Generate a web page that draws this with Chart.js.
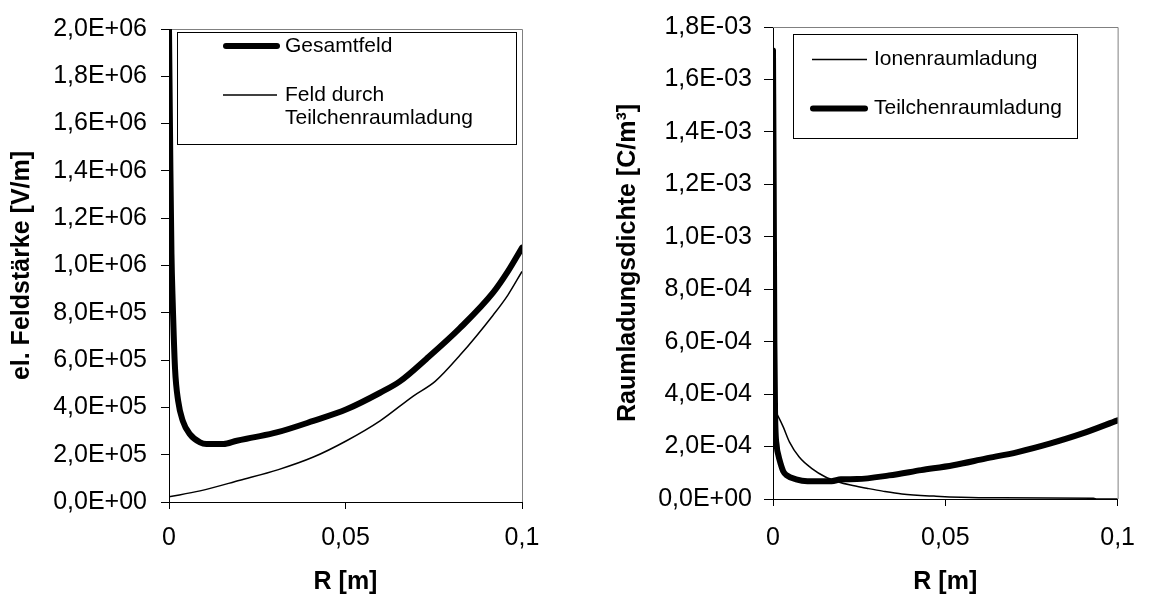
<!DOCTYPE html>
<html>
<head>
<meta charset="utf-8">
<script src="https://cdn.jsdelivr.net/npm/chart.js@4/dist/chart.umd.min.js"></script>
<style>
  body { margin: 0; background: #fff; }
  .wrap { position: absolute; top: 0; width: 576px; height: 600px; }
</style>
</head>
<body>
<div class="wrap" style="left:0"><canvas id="feld" width="576" height="600"></canvas></div>
<div class="wrap" style="left:576px"><canvas id="ladung" width="576" height="600"></canvas></div>
<script>
// linkes Diagramm: Feldstärke über Radius
const rGesamt = [0, 0.0004, 0.0007, 0.00105, 0.0017, 0.0026, 0.0039, 0.0059, 0.0088, 0.0106, 0.0154, 0.0192, 0.0239, 0.0305, 0.0409, 0.0503, 0.0598, 0.0654, 0.0729, 0.0824, 0.0918, 0.096, 0.1];
const eGesamt = [2.0e6, 1.4e6, 1.05e6, 8.45e5, 5.66e5, 4.27e5, 3.43e5, 2.87e5, 2.52e5, 2.45e5, 2.45e5, 2.59e5, 2.73e5, 2.94e5, 3.43e5, 3.92e5, 4.62e5, 5.1e5, 6.05e5, 7.35e5, 8.85e5, 9.75e5, 1.075e6];
const rTeilFeld = [0, 0.0088, 0.0201, 0.031, 0.0409, 0.0503, 0.0598, 0.0692, 0.0754, 0.0824, 0.0918, 0.096, 0.1];
const eTeilFeld = [2.2e4, 4.7e4, 9.2e4, 1.37e5, 1.9e5, 2.59e5, 3.43e5, 4.48e5, 5.1e5, 6.2e5, 7.9e5, 8.75e5, 9.75e5];

// rechtes Diagramm: Raumladungsdichte über Radius
const rIon = [0, 0.0015, 0.003, 0.0048, 0.0076, 0.0113, 0.0151, 0.0188, 0.0225, 0.0272, 0.0318, 0.0374, 0.0467, 0.0597, 0.093, 0.094, 0.1];
const qIon = [3.5e-4, 3.15e-4, 2.74e-4, 2.17e-4, 1.6e-4, 1.16e-4, 8.5e-5, 6.6e-5, 5.3e-5, 4.1e-5, 3.0e-5, 1.9e-5, 1.1e-5, 5e-6, 3e-6, 0, 0];
const rTeil = [0, 0.0002, 0.0004, 0.0006, 0.0011, 0.0015, 0.0022, 0.003, 0.0039, 0.0067, 0.01, 0.017, 0.0197, 0.0244, 0.0337, 0.043, 0.0523, 0.0616, 0.071, 0.0803, 0.0896, 0.1];
const qTeil = [1.71e-3, 1.2e-3, 6.0e-4, 3.3e-4, 2.0e-4, 1.7e-4, 1.35e-4, 1.05e-4, 9.1e-5, 7.5e-5, 6.8e-5, 6.8e-5, 7.5e-5, 7.6e-5, 9.0e-5, 1.1e-4, 1.29e-4, 1.54e-4, 1.79e-4, 2.11e-4, 2.49e-4, 3.0e-4];

const xTicks = [0, 0.05, 0.1];
const FONT = '"Liberation Sans", Arial, sans-serif';

const pts = (xs, ys) => xs.map((x, i) => ({ x: x, y: ys[i] }));

// 2,0E+06 Schreibweise wie in Excel
function sciLabel(v) {
    const parts = v.toExponential(1).split('e');
    const exp = parseInt(parts[1], 10);
    return parts[0].replace('.', ',') + 'E' + (exp < 0 ? '-' : '+') + String(Math.abs(exp)).padStart(2, '0');
}

// grauer Rahmen oben/rechts und Legendenkasten
const excelBox = {
    id: 'excelBox',
    beforeDatasetsDraw(chart) {
        const { ctx, chartArea: a } = chart;
        ctx.save();
        ctx.strokeStyle = '#808080';
        ctx.lineWidth = 1;
        ctx.beginPath();
        ctx.moveTo(a.left, a.top + 0.5);
        ctx.lineTo(a.right + 0.5, a.top + 0.5);
        ctx.lineTo(a.right + 0.5, a.bottom);
        ctx.stroke();
        ctx.restore();
    },
    afterDatasetsDraw(chart, args, opts) {
        const { ctx } = chart;
        const L = opts.box;
        ctx.save();
        ctx.fillStyle = '#fff';
        ctx.fillRect(L.x, L.y, L.w, L.h);
        ctx.strokeStyle = '#000';
        ctx.lineWidth = 1;
        ctx.strokeRect(L.x + 0.5, L.y + 0.5, L.w, L.h);
        chart.data.datasets.forEach((ds, i) => {
            const it = opts.items[i];
            ctx.strokeStyle = ds.borderColor;
            ctx.lineWidth = ds.borderWidth;
            ctx.lineCap = ds.borderWidth > 3 ? 'round' : 'butt';
            ctx.beginPath();
            ctx.moveTo(it.x0, it.y);
            ctx.lineTo(it.x1, it.y);
            ctx.stroke();
            ctx.fillStyle = '#000';
            ctx.font = '21px ' + FONT;
            ctx.textBaseline = 'middle';
            ds.label.split('\n').forEach((t, k) => ctx.fillText(t, it.tx, it.y + k * 23.4));
        });
        ctx.restore();
    }
};

function makeChart(id, datasets, y, frame) {
    return new Chart(document.getElementById(id), {
        type: 'line',
        data: { datasets: datasets },
        plugins: [excelBox],
        options: {
            responsive: false,
            animation: false,
            devicePixelRatio: 1,
            layout: { padding: { top: 24, right: frame.right, left: 0, bottom: 0 } },
            elements: {
                point: { radius: 0 },
                line: { cubicInterpolationMode: 'monotone', borderJoinStyle: 'round' }
            },
            scales: {
                x: {
                    type: 'linear', min: 0, max: 0.1,
                    afterBuildTicks: s => { s.ticks = xTicks.map(v => ({ value: v })); },
                    afterFit: s => { s.height = frame.xh; },
                    grid: { drawOnChartArea: false, tickLength: 7, color: '#000' },
                    border: { color: '#000' },
                    ticks: {
                        color: '#000', font: { family: FONT, size: 25 }, padding: frame.xpad, maxRotation: 0,
                        callback: v => String(Math.round(v * 100) / 100).replace('.', ',')
                    },
                    title: {
                        display: true, text: 'R [m]', color: '#000',
                        font: { family: FONT, size: 25, weight: 'bold' }, padding: { top: 0, bottom: 3 }
                    }
                },
                y: {
                    min: 0, max: y.max,
                    afterBuildTicks: s => { s.ticks = y.ticks.map(v => ({ value: v })); },
                    afterFit: s => { s.width = frame.yw; },
                    grid: { drawOnChartArea: false, tickLength: frame.ytl, color: '#000' },
                    border: { color: '#000' },
                    ticks: { color: '#000', font: { family: FONT, size: 25 }, padding: frame.ypad, autoSkip: false, callback: sciLabel },
                    title: {
                        display: true, text: y.title, color: '#000',
                        font: { family: FONT, size: 25, weight: 'bold' }, padding: { top: frame.tpad, bottom: 0 }
                    }
                }
            },
            plugins: {
                legend: { display: false },
                tooltip: { enabled: false },
                excelBox: frame.legend
            }
        }
    });
}

const feldTicks = [0, 2e5, 4e5, 6e5, 8e5, 1e6, 1.2e6, 1.4e6, 1.6e6, 1.8e6, 2e6];
const ladungTicks = [0, 2e-4, 4e-4, 6e-4, 8e-4, 1e-3, 1.2e-3, 1.4e-3, 1.6e-3, 1.8e-3];

makeChart('feld', [
    { label: 'Gesamtfeld', data: pts(rGesamt, eGesamt), borderColor: '#000', borderWidth: 6, borderCapStyle: 'round' },
    { label: 'Feld durch\nTeilchenraumladung', data: pts(rTeilFeld, eTeilFeld), borderColor: '#000', borderWidth: 1.5 }
], { max: 2e6, ticks: feldTicks, title: 'el. Feldstärke [V/m]' }, {
    right: 54, xh: 98, yw: 169, ytl: 8, ypad: 14, xpad: 14, tpad: 7,
    legend: {
        box: { x: 177, y: 32, w: 339, h: 112 },
        items: [{ x0: 226, x1: 277, y: 46, tx: 285 }, { x0: 223, x1: 277, y: 95, tx: 285 }]
    }
});

makeChart('ladung', [
    { label: 'Ionenraumladung', data: pts(rIon, qIon), borderColor: '#000', borderWidth: 1.5, order: 1 },
    { label: 'Teilchenraumladung', data: pts(rTeil, qTeil), borderColor: '#000', borderWidth: 6, borderCapStyle: 'round', order: 0 }
], { max: 1.8e-3, ticks: ladungTicks, title: 'Raumladungsdichte [C/m³]' }, {
    right: 22, xh: 101, yw: 197, ytl: 9, ypad: 12, xpad: 17, tpad: 37,
    legend: {
        box: { x: 217, y: 34, w: 284, h: 104 },
        items: [{ x0: 236, x1: 291, y: 59.5, tx: 298 }, { x0: 237, x1: 289, y: 108.5, tx: 298 }]
    }
});
</script>
</body>
</html>
